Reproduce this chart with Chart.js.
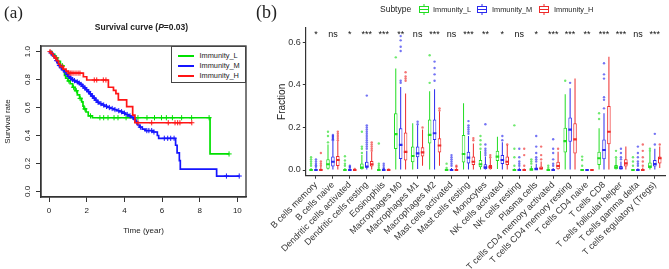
<!DOCTYPE html>
<html><head><meta charset="utf-8">
<script src="https://cdn.jsdelivr.net/npm/chart.js@4.4.0/dist/chart.umd.min.js"></script>
<style>
body{margin:0;background:#fff;}
#wrap{position:relative;width:669px;height:269px;overflow:hidden;font-family:"Liberation Sans",Arial,sans-serif;color:#222;}
canvas{position:absolute;top:0;}
#ca{left:0;}
#cb{left:250px;}
.pl{position:absolute;font-family:"Liberation Serif",serif;line-height:1;}
.t{position:absolute;white-space:nowrap;line-height:1;}
#legA{position:absolute;left:170.5px;top:46px;width:75px;height:37px;border:1px solid #444;background:#fff;box-sizing:border-box;}
#legA .row{position:absolute;left:0;height:10px;}
#legA .ln{position:absolute;left:6px;width:16px;height:0;border-top:2px solid;}
#legA .tx{position:absolute;left:28px;font-size:7.4px;top:-4px;}
.key{position:absolute;top:4px;}
</style></head>
<body>
<div id="wrap">
  <canvas id="ca" width="255" height="269"></canvas>
  <canvas id="cb" width="419" height="269"></canvas>
  <div class="pl" style="left:4px;top:4px;font-size:17px;">(a)</div>
  <div class="pl" style="left:256px;top:3px;font-size:18px;">(b)</div>
  <div class="t" style="left:0;width:283px;text-align:center;top:23px;font-size:8.5px;font-weight:bold;">Survival curve (<i>P</i>=0.03)</div>
  <div id="legA">
    <div class="row" style="top:8px;"><div class="ln" style="border-color:#00e000"></div><div class="tx">Immunity_L</div></div>
    <div class="row" style="top:18px;"><div class="ln" style="border-color:#1515ff"></div><div class="tx">Immunity_M</div></div>
    <div class="row" style="top:28px;"><div class="ln" style="border-color:#ff1515"></div><div class="tx">Immunity_H</div></div>
  </div>
  <div class="t" style="left:380px;top:4.5px;font-size:8.5px;">Subtype</div>
  <svg class="key" style="left:418px" width="12" height="11"><g stroke="#22dd22" fill="none" stroke-width="1"><line x1="6" y1="0" x2="6" y2="2.5"/><line x1="6" y1="8.5" x2="6" y2="11"/><rect x="1.5" y="2.5" width="9" height="6"/><line x1="1.5" y1="5.5" x2="10.5" y2="5.5"/></g></svg>
  <div class="t" style="left:433px;top:5.5px;font-size:7.4px;">Immunity_L</div>
  <svg class="key" style="left:476px" width="12" height="11"><g stroke="#2a2aee" fill="none" stroke-width="1"><line x1="6" y1="0" x2="6" y2="2.5"/><line x1="6" y1="8.5" x2="6" y2="11"/><rect x="1.5" y="2.5" width="9" height="6"/><line x1="1.5" y1="5.5" x2="10.5" y2="5.5"/></g></svg>
  <div class="t" style="left:492px;top:5.5px;font-size:7.4px;">Immunity_M</div>
  <svg class="key" style="left:538px" width="12" height="11"><g stroke="#ee2a2a" fill="none" stroke-width="1"><line x1="6" y1="0" x2="6" y2="2.5"/><line x1="6" y1="8.5" x2="6" y2="11"/><rect x="1.5" y="2.5" width="9" height="6"/><line x1="1.5" y1="5.5" x2="10.5" y2="5.5"/></g></svg>
  <div class="t" style="left:554px;top:5.5px;font-size:7.4px;">Immunity_H</div>
</div>
<script>
// ---------------- Panel (a): survival data ----------------
const survXTicks = [0, 2, 4, 6, 8, 10];
const survYTicks = [0, 0.2, 0.4, 0.6, 0.8, 1.0];

const survL_t = [0,0.15,0.3,0.45,0.6,0.75,0.82,0.88,1.0,1.12,1.25,1.38,1.5,1.62,1.73,1.8,1.85,1.96,2.08,2.3,8.55];
const survL_s = [1,0.98,0.955,0.93,0.9,0.87,0.83,0.81,0.79,0.77,0.745,0.72,0.69,0.665,0.64,0.61,0.59,0.568,0.54,0.527,0.268];
const survL_end = 9.56;
const censL = [0.4,0.7,1.05,1.3,1.45,1.65,1.9,2.2,2.7,2.9,3.13,3.45,3.66,4.09,4.72,5.2,5.6,5.97,6.23,6.55,7.04,7.57,8.5,9.56];

const survM_t = [0,0.08,0.15,0.22,0.3,0.38,0.45,0.52,0.6,0.7,0.8,0.9,1.0,1.1,1.2,1.3,1.42,1.55,1.65,1.75,1.85,1.95,2.05,2.15,2.25,2.35,2.45,2.55,2.65,2.8,2.95,3.1,3.25,3.45,3.6,3.75,3.9,4.05,4.2,4.35,4.5,4.6,4.7,4.8,4.95,5.1,5.5,5.75,5.82,6.72,6.8,6.92,6.97,8.9];
const survM_s = [1,0.99,0.98,0.97,0.955,0.935,0.915,0.9,0.885,0.87,0.855,0.838,0.822,0.81,0.8,0.792,0.783,0.775,0.765,0.752,0.74,0.727,0.714,0.698,0.682,0.667,0.652,0.638,0.628,0.618,0.608,0.6,0.593,0.585,0.577,0.57,0.56,0.55,0.54,0.53,0.515,0.495,0.475,0.46,0.445,0.435,0.425,0.4,0.38,0.33,0.275,0.22,0.16,0.11];
const survM_end = 10.1;
const censM = [0.1,0.25,0.4,0.55,0.65,0.75,0.95,1.05,1.15,1.25,1.35,1.5,1.6,1.7,1.8,1.9,2.0,2.1,2.2,2.3,2.4,2.5,2.6,2.75,2.9,3.05,3.2,3.35,3.5,3.7,3.85,4.0,4.15,4.3,4.45,4.65,4.85,5.19,5.3,5.45,5.57,6.12,6.3,6.46,6.64,9.42,10.1];

const survH_t = [0,0.1,0.2,0.3,0.4,0.5,0.58,0.75,0.9,1.02,1.82,2.0,3.15,3.42,3.55,3.68,4.12,4.44,4.56];
const survH_s = [1,0.985,0.97,0.955,0.935,0.91,0.892,0.875,0.86,0.846,0.82,0.797,0.745,0.722,0.7,0.655,0.606,0.546,0.491];
const survH_end = 7.58;
const censH = [0.05,0.35,0.7,1.06,1.15,1.22,1.32,1.43,1.54,1.64,2.4,2.53,2.88,3.02,4.72,5.45,6.33,6.69,6.83,6.95,7.58];

const colA = {L:'#00e000', M:'#1515ff', H:'#ff1515'};

function survAt(ts, ss, t){ let v = ss[0]; for(let i=0;i<ts.length;i++){ if(ts[i] <= t) v = ss[i]; } return v; }
function stepLine(ts, ss, end){ const d = ts.map((t,i)=>({x:t,y:ss[i]})); d.push({x:end,y:ss[ss.length-1]}); return d; }
function marks(ts, ss, cs){ return cs.map(t=>({x:t,y:survAt(ts,ss,t)})); }

Chart.defaults.font.family = "'Liberation Sans', Arial, sans-serif";
Chart.defaults.color = '#222';

const boxA = {
  id:'boxA',
  afterDraw(chart){
    const {ctx, chartArea:a, scales} = chart;
    ctx.save();
    ctx.strokeStyle='#333'; ctx.lineWidth=1.3;
    ctx.strokeRect(a.left, a.top, a.right-a.left, a.bottom-a.top);
    ctx.fillStyle='#222'; ctx.font='8px "Liberation Sans"';
    ctx.textAlign='center'; ctx.textBaseline='middle';
    survYTicks.forEach(v=>{ const y=scales.y.getPixelForValue(v); ctx.save(); ctx.translate(a.left-13, y); ctx.rotate(-Math.PI/2); ctx.fillText(v.toFixed(1),0,0); ctx.restore(); });
    ctx.restore();
  }
};

function lineDs(ts, ss, end, c, ord){ return {type:'line', data:stepLine(ts,ss,end), borderColor:c, borderWidth:1.7, stepped:'before', pointRadius:0, fill:false, order:ord}; }
function markDs(ts, ss, cs, c, ord){ return {type:'scatter', data:marks(ts,ss,cs), borderColor:c, backgroundColor:c, pointStyle:'cross', pointRadius:2.6, borderWidth:1, order:ord}; }

new Chart(document.getElementById('ca'), {
  type:'line',
  data:{datasets:[
    lineDs(survH_t,survH_s,survH_end,colA.H,0), markDs(survH_t,survH_s,censH,colA.H,0),
    lineDs(survM_t,survM_s,survM_end,colA.M,1), markDs(survM_t,survM_s,censM,colA.M,1),
    lineDs(survL_t,survL_s,survL_end,colA.L,2), markDs(survL_t,survL_s,censL,colA.L,2)
  ]},
  options:{
    responsive:false, animation:false,
    layout:{padding:{top:46,right:9,left:0,bottom:0}},
    plugins:{legend:{display:false}, tooltip:{enabled:false}},
    scales:{
      x:{type:'linear', min:-0.43, max:10.46,
         afterBuildTicks:s=>{s.ticks=survXTicks.map(v=>({value:v}));},
         afterFit:s=>{s.height=72;},
         ticks:{font:{size:8}, color:'#222', padding:4, callback:v=>String(v)},
         grid:{drawOnChartArea:false, tickLength:5, color:'#333', lineWidth:1},
         border:{display:true, color:'#333', width:1.3},
         title:{display:true, text:'Time (year)', font:{size:8}, color:'#222', padding:{bottom:33}}},
      y:{type:'linear', min:-0.04, max:1.04,
         afterBuildTicks:s=>{s.ticks=survYTicks.map(v=>({value:v}));},
         afterFit:s=>{s.width=41;},
         ticks:{display:false},
         grid:{drawOnChartArea:false, tickLength:5, color:'#333', lineWidth:1},
         border:{display:true, color:'#333', width:1.3},
         title:{display:true, text:'Survival rate', font:{size:8}, color:'#222', padding:{top:3}}}
    }
  },
  plugins:[boxA]
});

// ---------------- Panel (b): immune cell fractions ----------------
const cellTypes = ["B cells memory","B cells naive","Dendritic cells activated","Dendritic cells resting","Eosinophils","Macrophages M0","Macrophages M1","Macrophages M2","Mast cells activated","Mast cells resting","Monocytes","NK cells activated","NK cells resting","Plasma cells","T cells CD4 memory activated","T cells CD4 memory resting","T cells CD4 naive","T cells CD8","T cells follicular helper","T cells gamma delta","T cells regulatory (Tregs)"];
const sigLabels = ["*","ns","*","***","***","**","ns","***","ns","***","**","*","ns","*","***","***","**","***","***","ns","***"];
const fracTicks = [0, 0.2, 0.4, 0.6];

const L_lo  = [0,0,0,0,0, 0,0,0,0,0, 0,0.005,0,0,0, 0,0,0,0,0, 0];
const L_q1  = [0,0.006,0,0.003,0, 0.099,0.036,0.125,0,0.035, 0.0125,0.042,0,0,0, 0.082,0,0.024,0.003,0, 0.008];
const L_med = [0,0.027,0,0.012,0, 0.169,0.066,0.165,0,0.075, 0.027,0.063,0,0.002,0, 0.136,0,0.055,0.0125,0, 0.016];
const L_q3  = [0.004,0.05,0.004,0.031,0, 0.267,0.11,0.238,0.002,0.165, 0.047,0.091,0.003,0.008,0.002, 0.199,0,0.086,0.024,0.002, 0.035];
const L_hi  = [0.01,0.12,0.01,0.07,0, 0.478,0.22,0.37,0.005,0.314, 0.09,0.157,0.007,0.02,0.005, 0.356,0,0.196,0.055,0.005, 0.086];
const L_out = [[0.02,0.03,0.04,0.05,0.06],[0.13,0.16,0.18],[0.02,0.03,0.045,0.065],[0.08,0.1,0.11,0.18],[0.01,0.02,0.03,0.125],[0.53],[],[0.41,0.54],[0.01,0.03],[],[0.1,0.12,0.14,0.16],[],[0.02,0.06,0.1,0.21],[0.03,0.04,0.05],[0.01,0.02],[0.42],[0.02,0.047,0.063],[0.24,0.267],[0.06,0.09],[0.02,0.04,0.06],[0.09,0.1]];

const M_lo  = [0,0,0,0,0, 0,0.005,0,0,0, 0,0,0,0,0, 0,0,0,0,0, 0];
const M_q1  = [0,0.016,0,0.0125,0, 0.052,0.06,0.141,0,0.031, 0.003,0.028,0,0.002,0, 0.133,0,0.05,0.003,0, 0.016];
const M_med = [0,0.039,0,0.016,0, 0.118,0.078,0.173,0,0.058, 0.0125,0.047,0,0.004,0, 0.19,0,0.094,0.008,0, 0.028];
const M_q3  = [0.003,0.063,0.002,0.039,0, 0.196,0.11,0.238,0.004,0.086, 0.027,0.07,0.005,0.012,0.004, 0.247,0,0.144,0.019,0.003, 0.047];
const M_hi  = [0.008,0.135,0.005,0.09,0, 0.39,0.21,0.38,0.01,0.16, 0.063,0.13,0.012,0.03,0.01, 0.384,0,0.267,0.04,0.008, 0.1];
const M_out = [[0.015,0.022,0.03,0.04,0.05],[0.14,0.145,0.15,0.155,0.16,0.165],[0.01,0.015,0.02],[0.1,0.11,0.12,0.13,0.14,0.15,0.16,0.17,0.18,0.19,0.2,0.21,0.35],[0.005,0.01,0.02,0.03],[0.41,0.42,0.56,0.58,0.61,0.63],[0.215,0.227],[0.42,0.45,0.48,0.51],[0.02,0.03,0.04,0.05,0.06,0.07],[0.17,0.18,0.19,0.2,0.21,0.23],[0.07,0.08,0.09,0.1,0.12,0.215],[0.14,0.16],[0.02,0.03,0.04,0.06,0.1],[0.04,0.05,0.06,0.08,0.11,0.16],[0.02,0.03,0.05,0.08,0.1,0.145],[0.41],[],[0.29,0.33,0.342,0.43,0.45,0.502],[0.05,0.06,0.08,0.1],[0.02,0.03,0.04,0.06,0.08,0.11],[0.12,0.17]];

const H_lo  = [0,0,0,0,0, 0,0.02,0.02,0,0, 0,0,0,0,0, 0,0,0,0,0, 0.01];
const H_q1  = [0,0.019,0,0.016,0, 0.045,0.063,0.082,0,0.024, 0.003,0.024,0,0.003,0.003, 0.078,0,0.121,0.016,0, 0.031];
const H_med = [0,0.047,0,0.027,0, 0.085,0.083,0.115,0,0.039, 0.014,0.039,0,0.007,0.019, 0.144,0,0.18,0.031,0, 0.055];
const H_q3  = [0.006,0.066,0,0.042,0, 0.176,0.107,0.149,0.003,0.063, 0.024,0.063,0.003,0.016,0.039, 0.22,0,0.301,0.05,0.005, 0.063];
const H_hi  = [0.015,0.135,0,0.085,0, 0.36,0.19,0.275,0.008,0.125, 0.055,0.118,0.007,0.04,0.086, 0.43,0,0.533,0.11,0.012, 0.11];
const H_out = [[0.02,0.03,0.04,0.08],[0.14,0.15,0.16,0.17,0.18],[0.005],[0.09,0.1,0.11,0.12,0.13],[0.003],[0.42,0.43,0.44,0.46],[0.2],[0.28,0.29],[0.015,0.02],[0.14,0.15],[0.06,0.07],[0.12],[0.02,0.07,0.1],[0.05,0.07,0.11],[0.1],[],[],[],[],[0.02,0.04,0.06,0.09,0.12],[0.12]];

const groups = [
  {name:'Immunity_L', color:'#22dd22', dot:'rgba(34,221,34,0.65)',  lo:L_lo, q1:L_q1, med:L_med, q3:L_q3, hi:L_hi, out:L_out},
  {name:'Immunity_M', color:'#2a2aee', dot:'rgba(42,42,238,0.65)',  lo:M_lo, q1:M_q1, med:M_med, q3:M_q3, hi:M_hi, out:M_out},
  {name:'Immunity_H', color:'#ee2a2a', dot:'rgba(238,42,42,0.65)', lo:H_lo, q1:H_q1, med:H_med, q3:H_q3, hi:H_hi, out:H_out}
];
const dodge = 0.29;      // group offset, in category units
const boxPx = 4.6, whiskPx = 1, medHalf = 0.005;

const dsB = [];
groups.forEach((g, gi)=>{
  const off = (gi-1)*dodge;
  dsB.push({type:'bar', grouped:false, data:g.med.map((m,i)=>({x:i+off, y:[m-medHalf, m+medHalf]})), backgroundColor:g.color, borderWidth:0, maxBarThickness:boxPx, order:0});
  dsB.push({type:'bar', grouped:false, data:g.q1.map((q,i)=>({x:i+off, y:[q, g.q3[i]]})), backgroundColor:'#fff', borderColor:g.color, borderWidth:1, borderSkipped:false, maxBarThickness:boxPx, order:1});
  dsB.push({type:'bar', grouped:false, data:g.lo.map((l,i)=>({x:i+off, y:[l, g.hi[i]]})), backgroundColor:g.color, borderWidth:0, maxBarThickness:whiskPx, order:2});
  const pts = [];
  g.out.forEach((arr,i)=>arr.forEach(v=>pts.push({x:i+off, y:v})));
  dsB.push({type:'scatter', data:pts, backgroundColor:g.dot, borderWidth:0, pointRadius:1.2, order:3});
});

const sigPlugin = {
  id:'sig',
  afterDatasetsDraw(chart){
    const {ctx, scales} = chart;
    ctx.save();
    ctx.fillStyle='#111'; ctx.font='9px "Liberation Sans"'; ctx.textAlign='center'; ctx.textBaseline='alphabetic';
    sigLabels.forEach((s,i)=>{ ctx.fillText(s, scales.x.getPixelForValue(i), scales.y.getPixelForValue(0.625)); });
    ctx.restore();
  }
};

new Chart(document.getElementById('cb'), {
  type:'bar',
  data:{datasets:dsB},
  options:{
    responsive:false, animation:false,
    layout:{padding:{top:28,right:2,left:0,bottom:0}},
    plugins:{legend:{display:false}, tooltip:{enabled:false}},
    scales:{
      x:{type:'linear', min:-0.6, max:20.6, offset:false,
         afterBuildTicks:s=>{s.ticks=cellTypes.map((c,i)=>({value:i}));},
         afterFit:s=>{s.height=93.3;},
         ticks:{font:{size:9}, color:'#333', minRotation:45, maxRotation:45, autoSkip:false, padding:1,
                callback:(v)=>cellTypes[Math.round(v)]},
         grid:{drawOnChartArea:false, offset:false, tickLength:3, color:'#333', lineWidth:1},
         border:{display:true, color:'#333', width:1.2}},
      y:{type:'linear', min:-0.0268, max:0.668,
         afterBuildTicks:s=>{s.ticks=fracTicks.map(v=>({value:v}));},
         afterFit:s=>{s.width=55.8;},
         ticks:{font:{size:9}, color:'#333', padding:2, callback:v=>v.toFixed(1)},
         grid:{drawOnChartArea:false, tickLength:3, color:'#333', lineWidth:1},
         border:{display:true, color:'#333', width:1.2},
         title:{display:true, text:'Fraction', font:{size:10}, color:'#222', padding:{top:26}}}
    }
  },
  plugins:[sigPlugin]
});
</script>
</body></html>
